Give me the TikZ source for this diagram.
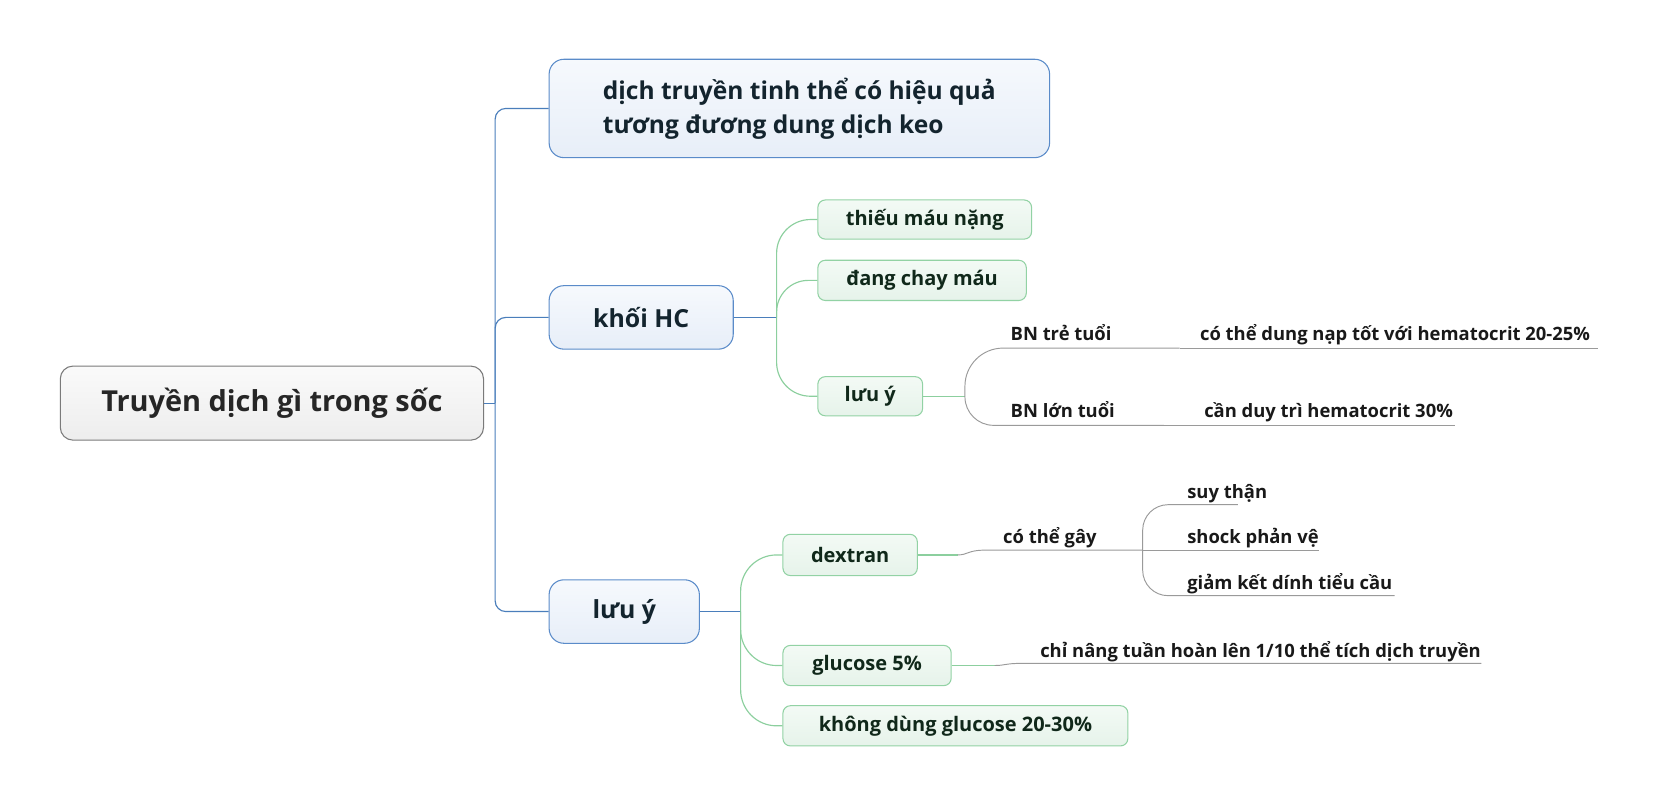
\documentclass[tikz,border=0pt]{standalone}
\usepackage{fontspec}
\setmainfont{Open Sans}
\definecolor{rootborder}{HTML}{7A7A7A}
\definecolor{roottop}{HTML}{FAFAFA}
\definecolor{rootbot}{HTML}{EDEDED}
\definecolor{blueborder}{HTML}{5A8BC9}
\definecolor{bluetop}{HTML}{F6F9FD}
\definecolor{bluebot}{HTML}{E7EEF8}
\definecolor{greenborder}{HTML}{92D2A4}
\definecolor{greentop}{HTML}{F3FAF5}
\definecolor{greenbot}{HTML}{E6F3EA}
\definecolor{blueline}{HTML}{4A7EBB}
\definecolor{greenline}{HTML}{8CCF9E}
\definecolor{grayline}{HTML}{9A9A9A}
\definecolor{darktext}{HTML}{13242E}
\definecolor{greentext}{HTML}{10281A}
\begin{document}
\begin{tikzpicture}[x=1pt,y=-1pt,
  rootbox/.style={draw=rootborder, line width=1pt, rounded corners=12pt,
    top color=roottop, bottom color=rootbot, inner sep=0pt,
    text=black!85, font=\fontsize{27.3}{32}\selectfont\bfseries},
  bluebox/.style={draw=blueborder, line width=1pt, rounded corners=14pt,
    top color=bluetop, bottom color=bluebot, inner sep=0pt,
    text=darktext, font=\fontsize{23.2}{32}\selectfont\bfseries},
  greenbox/.style={draw=greenborder, line width=1pt, rounded corners=7pt,
    top color=greentop, bottom color=greenbot, inner sep=0pt,
    text=greentext, font=\fontsize{18.9}{22}\selectfont\bfseries},
  lbl/.style={inner sep=0pt, anchor=base west, text=black!90,
    font=\fontsize{17.4}{20}\selectfont\bfseries},
  bconn/.style={draw=blueline, line width=1.1pt},
  gconn/.style={draw=greenline, line width=1.1pt},
  yconn/.style={draw=grayline, line width=0.9pt}
]
\useasboundingbox (0,0) rectangle (1568,762);

% root and main branches
\node[rootbox, minimum width=400pt, minimum height=70pt] (root) at (257,381) {Truyền dịch gì trong sốc};
\node[bluebox, minimum width=473pt, minimum height=93pt, align=left] (c1) at (755.5,102.5)
  {dịch truyền tinh thể có hiệu quả\\tương đương dung dịch keo};
\node[bluebox, minimum width=174pt, minimum height=60pt, font=\fontsize{23.5}{28}\selectfont\bfseries] (c2) at (606,300) {khối HC};
\node[bluebox, minimum width=142pt, minimum height=60pt, font=\fontsize{23.5}{28}\selectfont\bfseries] (c3) at (590,578) {lưu ý};

\coordinate (t0) at (468,381);
\draw[bconn] (root.east) -- (t0);
\draw[bconn, rounded corners=10pt] (t0) |- (c1.west);
\draw[bconn, rounded corners=10pt] (t0) |- (c2.west);
\draw[bconn, rounded corners=10pt] (t0) |- (c3.west);

% khoi HC branch
\node[greenbox, minimum width=202pt, minimum height=37pt] (n1) at (874,207.5) {thiếu máu nặng};
\node[greenbox, minimum width=197pt, minimum height=38pt] (n2) at (871.5,265) {đang chay máu};
\node[greenbox, minimum width=99pt, minimum height=37pt] (n3) at (822.5,374.5) {lưu ý};

\coordinate (t1) at (734,300);
\draw[bconn] (c2.east) -- (t1);
\draw[gconn, rounded corners=32pt] (t1) |- (n1.west);
\draw[gconn, rounded corners=30pt] (t1) |- (n2.west);
\draw[gconn, rounded corners=32pt] (t1) |- (n3.west);

% luu y (HC) sub-branch
\node[lbl] (bn1) at (955,322) {BN trẻ tuổi};
\node[lbl] (h1) at (1134,322) {có thể dung nạp tốt với hematocrit 20-25\%};
\node[lbl] (bn2) at (955,395) {BN lớn tuổi};
\node[lbl] (h2) at (1138,395) {cần duy trì hematocrit 30\%};
\coordinate (t2) at (912,374.5);
\coordinate (u1) at (1115,329);
\coordinate (u1e) at (1510,329);
\coordinate (u2) at (1100,402);
\coordinate (u2e) at (1375,402);
\draw[gconn] (n3.east) -- (t2);
\draw[yconn, rounded corners=36pt] (t2) |- (u1);
\draw[yconn] (u1) -- (u1e);
\draw[yconn, rounded corners=27pt] (t2) |- (u2);
\draw[yconn] (u2) -- (u2e);

% luu y (main) branch
\node[greenbox, minimum width=127pt, minimum height=39pt] (d1) at (803.5,524.5) {dextran};
\node[greenbox, minimum width=159pt, minimum height=38pt] (d2) at (819.5,629) {glucose 5\%};
\node[greenbox, minimum width=326pt, minimum height=38pt] (d3) at (903,686) {không dùng glucose 20-30\%};

\coordinate (t3) at (700,578);
\draw[bconn] (c3.east) -- (t3);
\draw[gconn, rounded corners=34pt] (t3) |- (d1.west);
\draw[gconn, rounded corners=34pt] (t3) |- (d2.west);
\draw[gconn, rounded corners=34pt] (t3) |- (d3.west);

% dextran sub-branch
\node[lbl] (cg) at (948,514) {có thể gây};
\node[lbl] (s1) at (1122,471) {suy thận};
\node[lbl] (s2) at (1122,514) {shock phản vệ};
\node[lbl] (s3) at (1122,557) {giảm kết dính tiểu cầu};
\coordinate (k1) at (905,524.5);
\coordinate (k2) at (930,520);
\coordinate (t4) at (1080,520);
\coordinate (v1) at (1170,477);
\coordinate (v2) at (1247,520);
\coordinate (v3) at (1318,563);
\draw[gconn] (d1.east) -- (k1);
\draw[yconn] (k1) .. controls (915,524.5) and (915,520) .. (k2) -- (t4);
\draw[yconn, rounded corners=24pt] (t4) |- (v1);
\draw[yconn] (t4) -- (v2);
\draw[yconn, rounded corners=24pt] (t4) |- (v3);

% glucose sub-branch
\node[lbl] (gl) at (983,621) {chỉ nâng tuần hoàn lên 1/10 thể tích dịch truyền};
\coordinate (m1) at (940,629);
\coordinate (m2) at (965,627);
\coordinate (m3) at (1400,627);
\draw[gconn] (d2.east) -- (m1);
\draw[yconn] (m1) .. controls (950,629) and (950,627) .. (m2) -- (m3);
\end{tikzpicture}
\end{document}
